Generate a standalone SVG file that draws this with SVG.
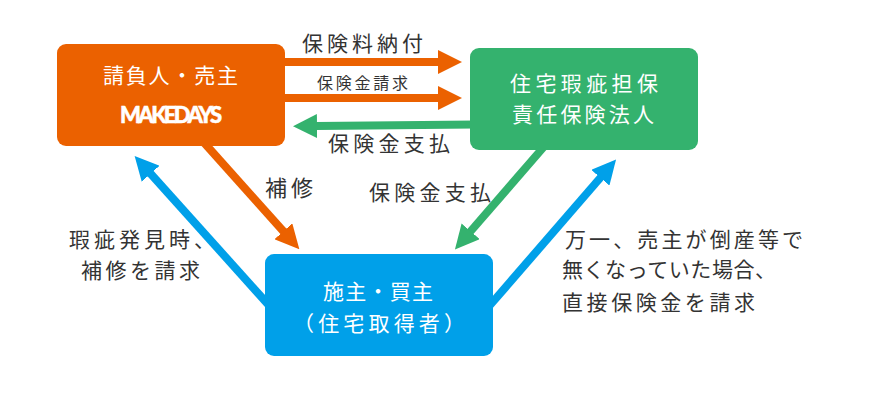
<svg xmlns="http://www.w3.org/2000/svg" width="870" height="400" viewBox="0 0 870 400">
<style>
text{font-family:"Noto Sans CJK JP","Noto Sans",sans-serif;font-size:21px;fill:#333}
.w{fill:#fff}
.s{font-size:16px}
.m{font-size:22px}
.logo{font-family:"Lato","Liberation Sans",sans-serif;font-weight:900;font-size:22px;stroke:#fff;stroke-width:.5}
.l{fill:none;stroke-width:8}
.o{stroke:#eb6100}.g{stroke:#34b26e}.b{stroke:#00a0e9}
</style>
<defs>
<marker id="ho" markerUnits="userSpaceOnUse" markerWidth="24" markerHeight="24" refX="1" refY="12" orient="auto"><path d="M0 0L24 12L0 24z" fill="#eb6100"/></marker>
<marker id="hg" markerUnits="userSpaceOnUse" markerWidth="24" markerHeight="24" refX="1" refY="12" orient="auto"><path d="M0 0L24 12L0 24z" fill="#34b26e"/></marker>
<marker id="hb" markerUnits="userSpaceOnUse" markerWidth="24" markerHeight="24" refX="1" refY="12" orient="auto"><path d="M0 0L24 12L0 24z" fill="#00a0e9"/></marker>
</defs>
<g id="connectors">
<path class="l o" marker-end="url(#ho)" d="M280 62H439"/>
<path class="l o" marker-end="url(#ho)" d="M280 98H439"/>
<path class="l g" marker-end="url(#hg)" d="M475 124.500L316 126"/>
<path class="l o" marker-end="url(#ho)" d="M203 141.500L284 232"/>
<path class="l g" marker-end="url(#hg)" d="M545 145.500L470 232"/>
<path class="l b" marker-end="url(#hb)" d="M270 306.500L150 173"/>
<path class="l b" marker-end="url(#hb)" d="M488 307.500L601 177"/>
<text x="302" y="51" textLength="121">保険料納付</text>
<text class="s" x="317" y="89" textLength="91">保険金請求</text>
<text x="328" y="151" textLength="122">保険金支払</text>
<text class="m" x="265" y="196" textLength="48">補修</text>
<text x="369" y="200" textLength="122">保険金支払</text>
<text x="69" y="247" textLength="146">瑕疵発見時、</text>
<text x="81" y="278" textLength="119">補修を請求</text>
<text x="565" y="247" textLength="238">万一、売主が倒産等で</text>
<text x="562" y="277" textLength="214">無くなっていた場合、</text>
<text x="562" y="310" textLength="193">直接保険金を請求</text>
</g>
<g id="contractor">
<rect x="57" y="44" width="228" height="102" rx="9" fill="#eb6100"/>
<text class="w" x="103" y="83" textLength="135">請負人・売主</text>
<text class="w logo" x="120" y="123" textLength="102">MAKEDAYS</text>
</g>
<g id="insurer">
<rect x="470" y="48" width="228" height="102" rx="9" fill="#34b26e"/>
<text class="w" x="510" y="91" textLength="148">住宅瑕疵担保</text>
<text class="w" x="512" y="122" textLength="142">責任保険法人</text>
</g>
<g id="owner">
<rect x="265" y="254" width="228" height="102" rx="9" fill="#00a0e9"/>
<text class="w" x="323" y="299" textLength="110">施主・買主</text>
<text class="w" x="293" y="331" textLength="172">（住宅取得者）</text>
</g>
</svg>
